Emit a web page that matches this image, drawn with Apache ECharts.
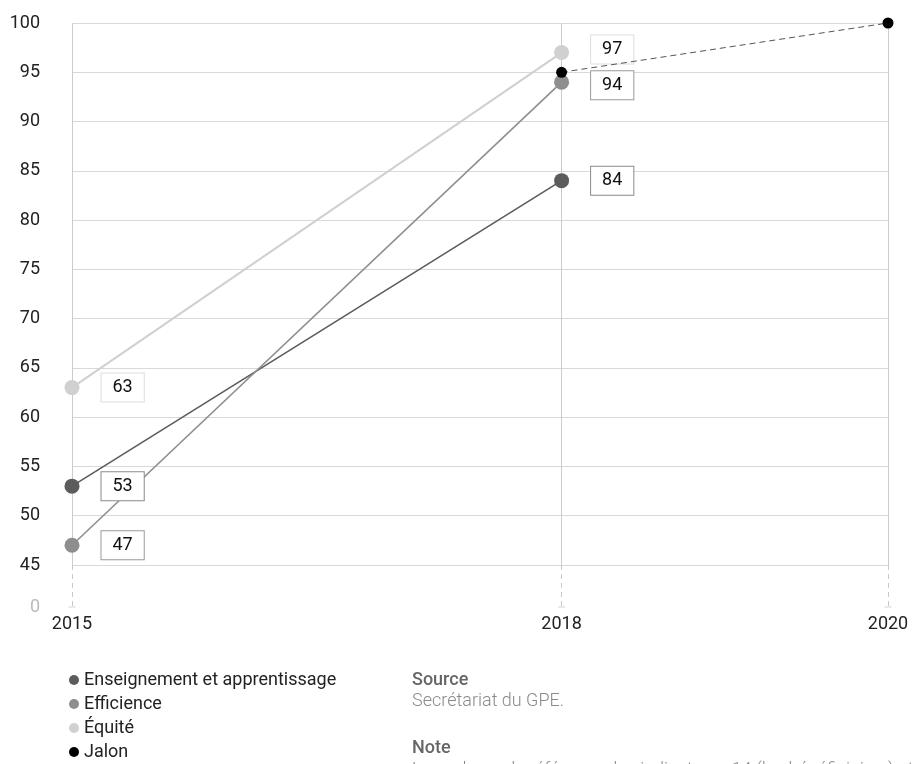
<!DOCTYPE html>
<html>
<head>
<meta charset="utf-8">
<script src="https://cdn.jsdelivr.net/npm/echarts@6/dist/echarts.min.js"></script>
<style>
html,body{margin:0;padding:0;background:#fff;}
#chart{width:912px;height:764px;}
</style>
</head>
<body>
<div id="chart"></div>
<script>
// ---- data ----
var years = [2015, 2018];
var enseignement = [53, 84];
var efficience = [47, 94];
var equite = [63, 97];
var jalonYears = [2018, 2020];
var jalon = [95, 100];
var xTicks = [2015, 2018, 2020];
var seriesNames = ['Enseignement et apprentissage', 'Efficience', 'Équité', 'Jalon'];

var FONT = 'Roboto, "DejaVu Sans", sans-serif';

function pairs(xs, ys) { return xs.map(function (x, i) { return [x, ys[i]]; }); }

function labelCfg(border) {
  return {
    show: true, position: 'right', distance: 22,
    color: '#111', fontSize: 18, lineHeight: 18, fontFamily: FONT,
    backgroundColor: '#fff', borderColor: border, borderWidth: 1,
    padding: [5, 11, 5, 11]
  };
}

function withOffsets(data, offsets) {
  return data.map(function (p, i) {
    var o = offsets[i];
    return o ? { value: p, label: { offset: o } } : p;
  });
}

var chart = echarts.init(document.getElementById('chart'), null, { renderer: 'canvas' });

var option = {
  animation: false,
  backgroundColor: '#fff',
  textStyle: { fontFamily: FONT },
  grid: [
    { left: 72, right: 24, top: 23, height: 542 },
    { left: 72, right: 24, top: 565, height: 42 }
  ],
  xAxis: [
    {
      gridIndex: 0, type: 'value', min: 2015, max: 2020,
      axisLine: { show: false },
      axisTick: { show: false, customValues: xTicks },
      axisLabel: { show: false },
      splitLine: { show: true, lineStyle: { color: '#cccccc', width: 1 } }
    },
    {
      gridIndex: 1, type: 'value', min: 2015, max: 2020,
      axisLine: { show: false },
      axisTick: { show: false, customValues: xTicks },
      axisLabel: {
        show: true, customValues: xTicks, color: '#222', fontSize: 18, fontFamily: FONT,
        margin: 8, formatter: function (v) { return String(v); }
      },
      splitLine: { show: true, lineStyle: { color: '#c8c8c8', width: 1, type: [5, 4] } }
    }
  ],
  yAxis: [
    {
      gridIndex: 0, type: 'value', min: 45, max: 100, interval: 5,
      axisLine: { show: false },
      axisTick: { show: false },
      axisLabel: { color: '#222', fontSize: 18, fontFamily: FONT, margin: 32 },
      splitLine: { show: true, lineStyle: { color: '#d9d9d9', width: 1 } }
    },
    {
      gridIndex: 1, type: 'value', min: 0, max: 1,
      axisLine: { show: false },
      axisTick: { show: false, customValues: [0] },
      axisLabel: { show: true, customValues: [0], color: '#bbbbbb', fontSize: 18, fontFamily: FONT, margin: 32 },
      splitLine: { show: false }
    }
  ],
  legend: {
    orient: 'vertical', left: 69, top: 671, padding: 0,
    data: seriesNames,
    icon: 'circle', itemWidth: 10, itemHeight: 10, itemGap: 6,
    textStyle: { color: '#222', fontSize: 18, lineHeight: 18, fontFamily: FONT }
  },
  series: [
    {
      name: seriesNames[0], type: 'line', xAxisIndex: 0, yAxisIndex: 0,
      data: pairs(years, enseignement),
      symbol: 'circle', symbolSize: 15,
      lineStyle: { color: '#5c5c5c', width: 1.6 },
      itemStyle: { color: '#5c5c5c' },
      label: labelCfg('#8a8a8a'),
      z: 3
    },
    {
      name: seriesNames[1], type: 'line', xAxisIndex: 0, yAxisIndex: 0,
      data: withOffsets(pairs(years, efficience), [null, [0, 3]]),
      symbol: 'circle', symbolSize: 15,
      lineStyle: { color: '#8e8e8e', width: 1.6 },
      itemStyle: { color: '#8e8e8e' },
      label: labelCfg('#9a9a9a'),
      z: 3
    },
    {
      name: seriesNames[2], type: 'line', xAxisIndex: 0, yAxisIndex: 0,
      data: withOffsets(pairs(years, equite), [null, [0, -3]]),
      symbol: 'circle', symbolSize: 15,
      lineStyle: { color: '#d0d0d0', width: 2 },
      itemStyle: { color: '#d0d0d0' },
      label: labelCfg('#dddddd'),
      z: 3
    },
    {
      name: seriesNames[3], type: 'line', xAxisIndex: 0, yAxisIndex: 0,
      data: pairs(jalonYears, jalon),
      symbol: 'circle', symbolSize: 11,
      lineStyle: { color: '#555', width: 1, type: [6, 4] },
      itemStyle: { color: '#000' },
      label: { show: false },
      z: 4
    },
    {
      name: 'ticks', type: 'scatter', xAxisIndex: 1, yAxisIndex: 1,
      data: xTicks.map(function (x) { return [x, 0]; }),
      symbol: 'rect', symbolSize: [7, 1], silent: true,
      itemStyle: { color: '#c8c8c8' }
    }
  ],
  graphic: [
    { type: 'text', left: 412, top: 671, style: { text: 'Source', fill: '#666', fontSize: 18, fontWeight: 500, fontFamily: FONT } },
    { type: 'text', left: 412, top: 692, style: { text: 'Secrétariat du GPE.', fill: '#8a8a8a', fontSize: 18, fontWeight: 300, fontFamily: FONT } },
    { type: 'text', left: 412, top: 739, style: { text: 'Note', fill: '#666', fontSize: 18, fontWeight: 500, fontFamily: FONT } },
    { type: 'text', left: 412, top: 761, style: { text: 'Les valeurs de référence des indicateurs 14 (les bénéficiaires) et les jalons pour 2020.', fill: '#8a8a8a', fontSize: 18, fontWeight: 300, fontFamily: FONT } }
  ]
};

chart.setOption(option);
</script>
</body>
</html>
